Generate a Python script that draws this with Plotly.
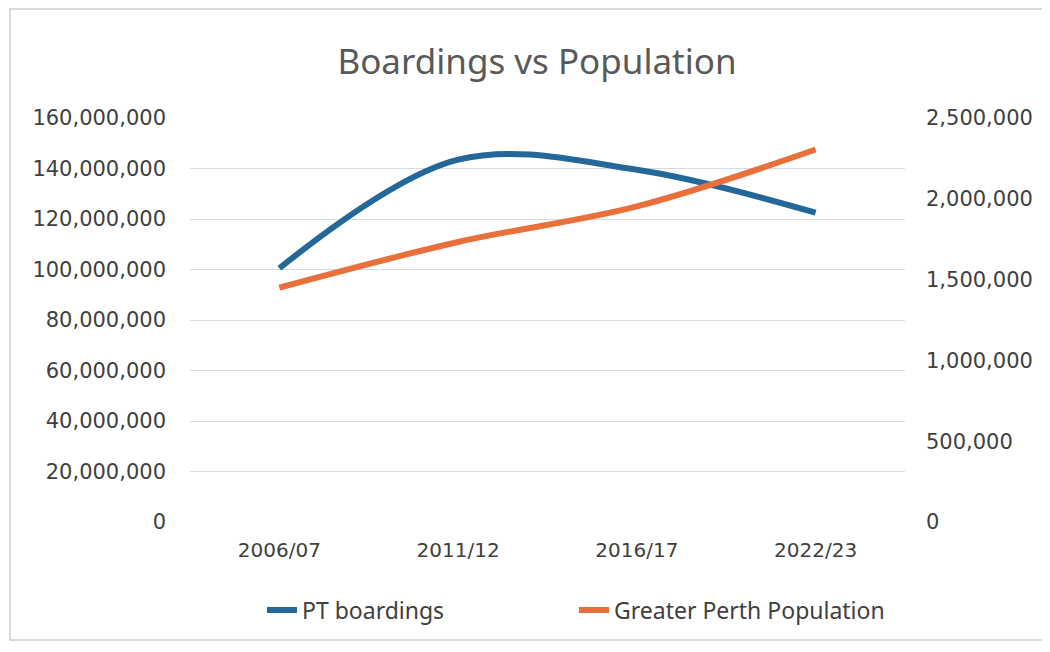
import plotly.graph_objects as go

categories = ["2006/07", "2011/12", "2016/17", "2022/23"]
pt_boardings = [100500000, 143500000, 139500000, 122500000]
population = [1450000, 1733000, 1953000, 2305000]

left_ticks = list(range(0, 160000001, 20000000))
right_ticks = list(range(0, 2500001, 500000))

BLUE = "#24689A"
ORANGE = "#E8703A"
TICK_FONT = dict(family="DejaVu Sans", size=21, color="#404040")

# page body has an 8px default margin; work in reference pixel coords and shift
O = 8
W, H = 1050 - O, 652 - O
L, R, T, B = 190 - O, 1050 - 905, 118 - O, 652 - 522
pw, ph = W - L - R, H - T - B


def px_x(x):
    return (x - O - L) / pw


def px_y(y):
    return (H - B - (y - O)) / ph


fig = go.Figure()
fig.add_trace(go.Scatter(
    x=categories, y=pt_boardings, name="PT boardings", mode="lines",
    line=dict(color=BLUE, width=6, shape="spline", smoothing=1), yaxis="y",
))
fig.add_trace(go.Scatter(
    x=categories, y=population, name="Greater Perth Population", mode="lines",
    line=dict(color=ORANGE, width=6, shape="spline", smoothing=1), yaxis="y2",
))

fig.update_layout(
    width=W, height=H,
    margin=dict(l=L, r=R, t=T, b=B),
    paper_bgcolor="white", plot_bgcolor="white",
    title=dict(text="Boardings vs Population", x=(537 - O) / W, xanchor="center",
               y=1 - (62 - O) / H, yanchor="middle",
               font=dict(family="Noto Sans", size=35, color="#595959")),
    xaxis=dict(type="category", range=[-0.5, 3.5], showgrid=False, showline=False,
               zeroline=False, ticks="", tickfont=dict(TICK_FONT, size=20),
               ticklabelstandoff=14),
    yaxis=dict(range=[0, 160000000], tickvals=left_ticks, tickformat=",",
               showgrid=True, gridcolor="#D5DBE5", gridwidth=1, zeroline=False,
               showline=False, ticks="", tickfont=TICK_FONT, ticklabelstandoff=23),
    yaxis2=dict(range=[0, 2500000], tickvals=right_ticks, tickformat=",",
                overlaying="y", side="right", showgrid=False, zeroline=False,
                showline=False, ticks="", tickfont=TICK_FONT, ticklabelstandoff=20),
    legend=dict(orientation="h", x=px_x(262), xanchor="left",
                y=px_y(610), yanchor="middle", bgcolor="rgba(0,0,0,0)",
                font=dict(family="Noto Sans", size=23, color="#404040"),
                entrywidth=267, entrywidthmode="pixels"),
    showlegend=True,
    shapes=[dict(type="rect", xref="paper", yref="paper",
                 x0=px_x(10), x1=px_x(1046),
                 y0=px_y(640), y1=px_y(9),
                 line=dict(color="#D0D0D0", width=1.5), fillcolor="rgba(0,0,0,0)",
                 layer="below")],
)

fig.write_html("out.html")
